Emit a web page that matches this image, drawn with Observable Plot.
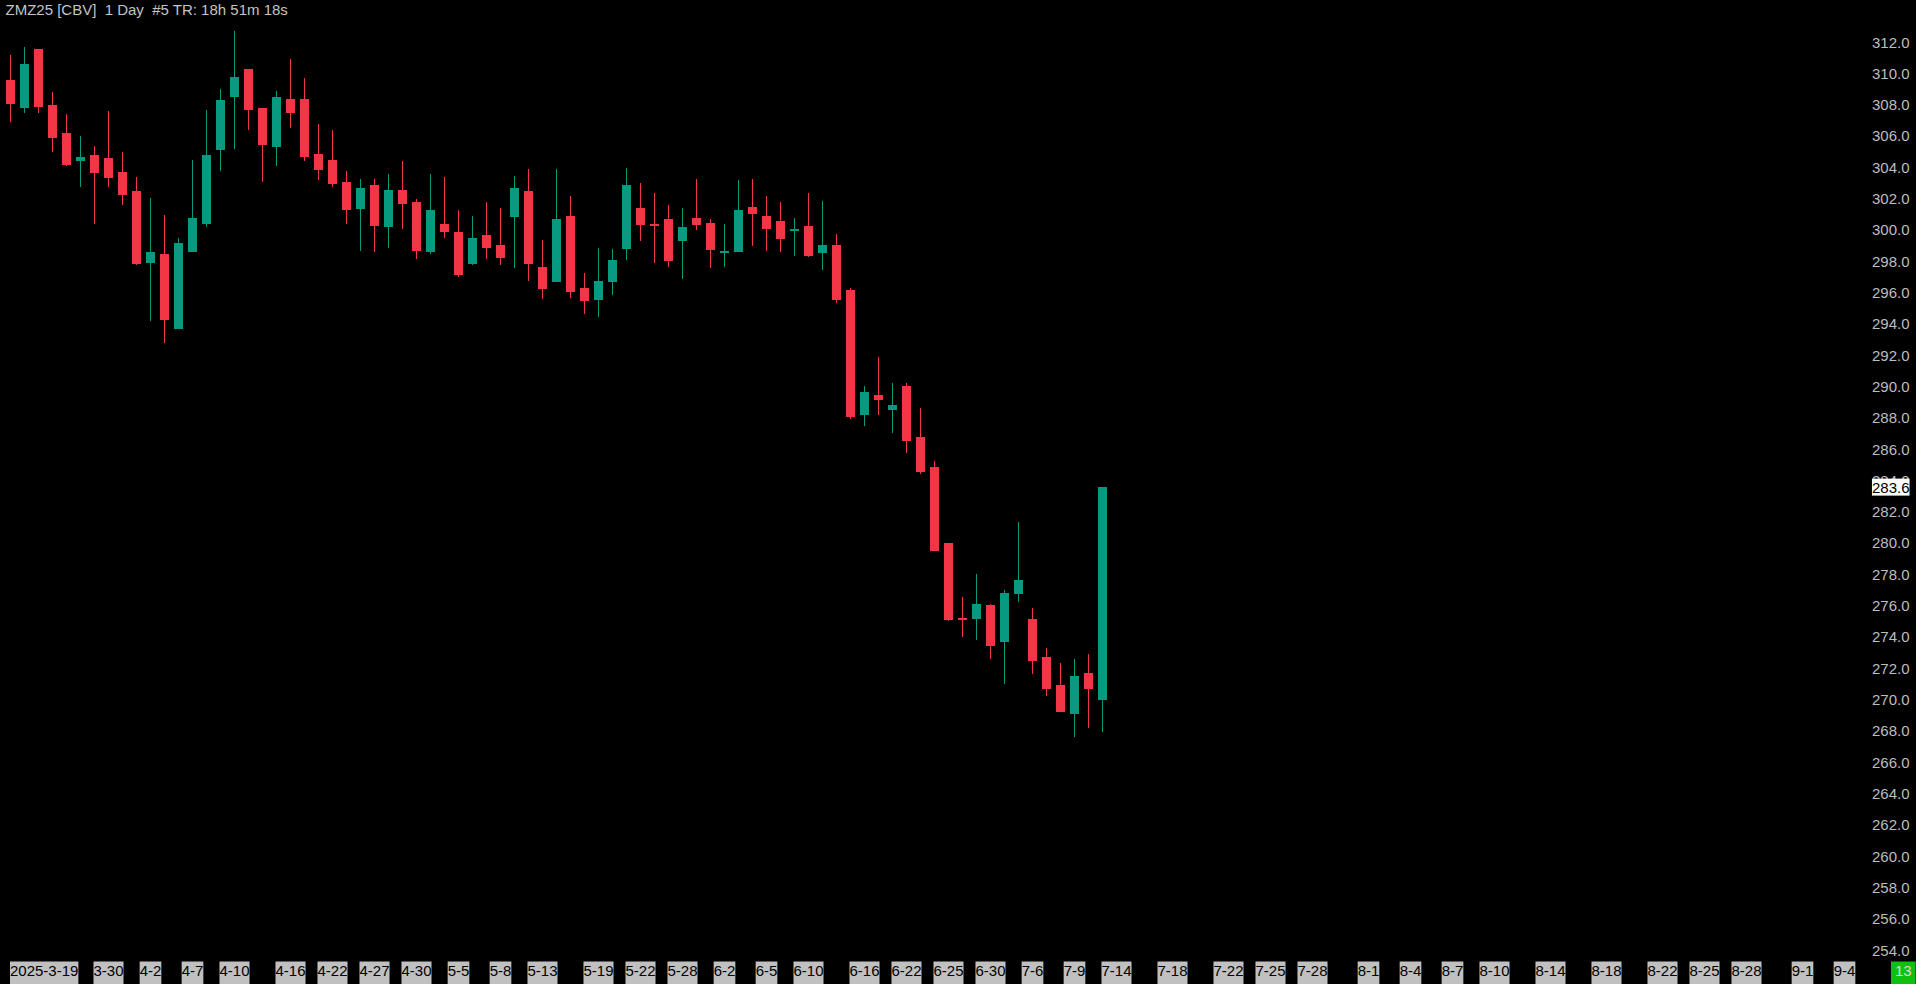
<!DOCTYPE html>
<html><head><meta charset="utf-8">
<script src="https://cdn.jsdelivr.net/npm/d3@7"></script>
<script src="https://cdn.jsdelivr.net/npm/@observablehq/plot@0.6"></script>
<style>
html,body{margin:0;padding:0;background:#000;overflow:hidden}
svg{display:block}
svg text{white-space:pre}
</style></head><body><div id="chart"></div>
<script>
const title = "ZMZ25 [CBV]  1 Day  #5 TR: 18h 51m 18s";

const opens  = [309.62,307.85,311.60,308.02,306.23,304.46,304.83,304.64,303.74,302.53,
                297.95,298.50,293.73,298.65,300.44,305.17,308.55,310.32,307.83,305.36,
                308.40,308.40,304.89,304.51,303.10,301.40,302.91,300.25,302.59,301.83,
                298.65,300.42,299.91,297.89,299.72,299.08,300.89,302.53,297.67,296.74,
                300.93,296.33,295.59,296.74,298.84,301.44,300.40,300.74,299.36,300.80,
                300.48,298.59,298.65,301.51,300.93,300.61,299.99,300.29,298.59,299.08,
                296.20,288.22,289.50,288.54,290.07,286.81,284.90,280.04,275.25,275.19,
                276.08,273.72,276.79,275.19,272.76,270.97,269.12,271.74,270.01];
const highs  = [311.21,311.73,311.60,308.85,307.45,306.04,305.40,307.64,305.02,303.42,
                302.08,300.99,299.53,304.51,307.70,309.04,312.75,310.32,307.83,308.92,
                310.96,309.75,306.81,306.42,303.80,303.29,303.29,303.61,304.44,302.02,
                303.61,303.42,301.31,300.93,301.83,301.44,303.49,303.93,299.40,303.93,
                302.21,297.29,298.89,298.82,304.00,303.04,302.40,301.63,301.44,303.29,
                300.74,300.42,303.23,303.29,302.21,301.83,300.80,302.40,301.89,299.78,
                296.33,290.07,291.92,290.26,290.26,288.67,285.28,280.04,276.59,278.06,
                276.15,277.04,281.38,275.89,273.34,272.38,272.63,272.95,283.60];
const lows   = [306.96,307.53,307.53,305.04,304.15,302.80,300.44,302.80,301.65,297.82,
                294.24,292.84,293.73,298.65,300.25,303.83,305.23,306.45,303.12,304.15,
                306.57,304.46,303.25,302.80,300.44,298.72,298.65,298.91,300.12,298.21,
                298.52,299.55,297.06,297.82,298.21,297.82,297.63,296.80,295.65,296.74,
                295.71,294.69,294.50,295.91,298.14,299.36,297.95,297.69,296.93,300.06,
                297.63,297.69,298.65,299.04,298.72,298.65,298.40,298.33,297.50,295.39,
                287.96,287.52,288.22,287.07,285.79,284.47,279.62,275.06,274.04,273.85,
                272.63,271.04,276.27,271.67,270.27,269.25,267.65,268.23,267.97];
const closes = [308.17,310.64,307.98,306.00,304.27,304.70,303.76,303.44,302.36,297.95,
                298.63,294.37,299.21,300.80,304.83,308.34,309.81,307.79,305.55,308.53,
                307.60,304.78,303.95,303.06,301.40,302.72,300.38,302.59,301.78,298.78,
                301.31,299.99,297.25,299.53,298.97,298.33,302.72,297.95,296.35,300.74,
                296.16,295.59,296.78,298.12,302.91,300.44,300.36,298.14,300.23,300.44,
                298.84,298.70,301.31,301.14,300.19,299.55,300.10,298.46,299.08,295.65,
                288.15,289.69,289.24,288.86,286.62,284.66,279.62,275.19,275.21,276.15,
                273.53,276.85,277.68,272.57,270.78,269.31,271.55,270.78,283.60];

const yTicks = d3.range(254, 313, 2);
const dateTickIndex  = [0,7,10,13,16,20,23,26,29,32,35,38,42,45,48,51,54,57,61,64,
                        67,70,73,76,79,83,87,90,93,97,100,103,106,110,114,118,121,124,128,131];
const dateTickLabels = ["2025-3-19","3-30","4-2","4-7","4-10","4-16","4-22","4-27","4-30","5-5",
                        "5-8","5-13","5-19","5-22","5-28","6-2","6-5","6-10","6-16","6-22",
                        "6-25","6-30","7-6","7-9","7-14","7-18","7-22","7-25","7-28","8-1",
                        "8-4","8-7","8-10","8-14","8-18","8-22","8-25","8-28","9-1","9-4"];
const lastPrice = 283.6;
const countdownLabel = "13";

const UP = "#089981", DOWN = "#f23645";
const candles = opens.map((o, i) => ({i, open: o, high: highs[i], low: lows[i], close: closes[i], up: closes[i] >= o}));
const col = d => d.up ? UP : DOWN;
const half = 4.5 / 14;
const dateTicks = dateTickIndex.map((x, k) => ({x, label: dateTickLabels[k]}));

const plot = Plot.plot({
  width: 1916, height: 984, margin: 0,
  style: {background: "#000", fontFamily: "'Liberation Sans', Arial, sans-serif", overflow: "visible"},
  x: {type: "linear", domain: [0, 136], range: [10, 10 + 14 * 136], axis: null},
  y: {type: "linear", domain: [254, 312], range: [950.7, 42.7], axis: null},
  marks: [
    Plot.ruleX(candles, {x: "i", y1: "low", y2: "high", stroke: col, strokeWidth: 1, shapeRendering: "crispEdges"}),
    Plot.rect(candles, {x1: d => d.i - half, x2: d => d.i + half, y1: "open", y2: "close", fill: col, shapeRendering: "crispEdges"}),
    Plot.ruleY(candles, {y: "close", x1: d => d.i - half, x2: d => d.i + half, stroke: col, strokeWidth: 1, shapeRendering: "crispEdges"}),
    Plot.text(yTicks, {y: d => d, text: d => d.toFixed(1), frameAnchor: "right", dx: -7, dy: -0.5, fill: "#bdbdbd", fontSize: 15}),
    Plot.text([lastPrice], {y: d => d, text: d => d.toFixed(1), frameAnchor: "right", dx: -7, fill: "#000", fontSize: 15}),
    Plot.text(dateTicks.slice(0, 1), {x: "x", text: "label", frameAnchor: "bottom", textAnchor: "start", dx: -0.5, dy: -9, fill: "#000", fontSize: 15}),
    Plot.text(dateTicks.slice(1), {x: "x", text: "label", frameAnchor: "bottom", textAnchor: "middle", dy: -9, fill: "#000", fontSize: 15}),
    Plot.text([countdownLabel], {text: d => d, frameAnchor: "bottom-right", textAnchor: "middle", dx: -13.2, dy: -9, fill: "#d8d8d8", fontSize: 15}),
    Plot.text([title], {text: d => d, frameAnchor: "top-left", lineAnchor: "top", dx: 5, dy: 4, fill: "#c4c4c4", fontSize: 15})
  ]
});
document.getElementById("chart").appendChild(plot);

const dateSet = new Set(dateTickLabels);
const priceText = lastPrice.toFixed(1);
plot.querySelectorAll("text").forEach(t => {
  const s = t.textContent;
  let fill = null, padX = 0, toBottom = false;
  if (dateSet.has(s)) { fill = "#c0c0c0"; toBottom = true; }
  else if (s === priceText) { fill = "#ffffff"; }
  else if (s === countdownLabel) { fill = "#10c010"; padX = 4; toBottom = true; }
  if (!fill) return;
  const b = t.getBBox();
  const r = document.createElementNS("http://www.w3.org/2000/svg", "rect");
  r.setAttribute("x", b.x - padX);
  r.setAttribute("y", b.y);
  r.setAttribute("width", b.width + 2 * padX);
  r.setAttribute("height", toBottom ? 984 - b.y : b.height);
  r.setAttribute("fill", fill);
  const tr = t.getAttribute("transform");
  if (tr) r.setAttribute("transform", tr);
  t.parentNode.insertBefore(r, t);
});
</script></body></html>
